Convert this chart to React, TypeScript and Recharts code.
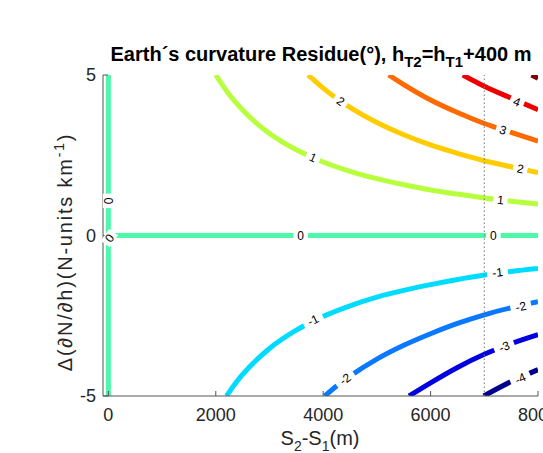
import React from "react";
import { ComposedChart, Line, XAxis, YAxis, ReferenceLine, ReferenceDot } from "recharts";

const xTicks = [0, 2000, 4000, 6000, 8000];
const yTicks = [-5, 0, 5];

// contour lines, points (x in m, y in N-units/km)
const zeroHorizontal = [{ x: 0, y: 0 }, { x: 8000, y: 0 }];
const zeroVertical = [{ x: 0, y: -5 }, { x: 0, y: 5 }];
const plusOne = [
  { x: 2000, y: 5.0 }, { x: 2250, y: 4.39 }, { x: 2500, y: 3.91 }, { x: 2750, y: 3.51 },
  { x: 3000, y: 3.18 }, { x: 3500, y: 2.67 }, { x: 4000, y: 2.29 }, { x: 4500, y: 2.0 },
  { x: 5000, y: 1.77 }, { x: 5500, y: 1.58 }, { x: 6000, y: 1.42 }, { x: 6500, y: 1.29 },
  { x: 7000, y: 1.17 }, { x: 7500, y: 1.07 }, { x: 8000, y: 0.98 },
];
const plusTwo = [
  { x: 3720, y: 5.0 }, { x: 4000, y: 4.59 }, { x: 4250, y: 4.27 }, { x: 4500, y: 3.99 },
  { x: 5000, y: 3.52 }, { x: 5500, y: 3.14 }, { x: 6000, y: 2.82 }, { x: 6500, y: 2.56 },
  { x: 7000, y: 2.33 }, { x: 7500, y: 2.14 }, { x: 8000, y: 1.96 },
];
const plusThree = [
  { x: 5220, y: 5.0 }, { x: 5500, y: 4.7 }, { x: 6000, y: 4.22 }, { x: 6500, y: 3.83 },
  { x: 7000, y: 3.49 }, { x: 7500, y: 3.21 }, { x: 8000, y: 2.94 },
];
const plusFour = [{ x: 6600, y: 5.0 }, { x: 7000, y: 4.65 }, { x: 7500, y: 4.28 }, { x: 8000, y: 3.92 }];
const plusFive = [{ x: 7880, y: 5.0 }, { x: 8000, y: 4.9 }];
const minusOne = [
  { x: 2200, y: -5.0 }, { x: 2350, y: -4.64 }, { x: 2500, y: -4.33 }, { x: 3000, y: -3.52 },
  { x: 3500, y: -2.95 }, { x: 4000, y: -2.52 }, { x: 4500, y: -2.19 }, { x: 5000, y: -1.92 },
  { x: 5500, y: -1.71 }, { x: 6000, y: -1.53 }, { x: 6500, y: -1.37 }, { x: 7000, y: -1.23 },
  { x: 7500, y: -1.12 }, { x: 8000, y: -1.03 },
];
const minusTwo = [
  { x: 4030, y: -5.0 }, { x: 4250, y: -4.69 }, { x: 4500, y: -4.38 }, { x: 5000, y: -3.85 },
  { x: 5500, y: -3.42 }, { x: 6000, y: -3.06 }, { x: 6500, y: -2.74 }, { x: 7000, y: -2.47 },
  { x: 7500, y: -2.25 }, { x: 8000, y: -2.06 },
];
const minusThree = [
  { x: 5600, y: -5.0 }, { x: 6000, y: -4.59 }, { x: 6500, y: -4.11 }, { x: 7000, y: -3.7 },
  { x: 7500, y: -3.37 }, { x: 8000, y: -3.09 },
];
const minusFour = [{ x: 6990, y: -5.0 }, { x: 7500, y: -4.55 }, { x: 8000, y: -4.18 }];

const contourLines = [
  zeroHorizontal, zeroVertical, plusOne, plusTwo, plusThree, plusFour, plusFive,
  minusOne, minusTwo, minusThree, minusFour,
];
const contourColors = [
  "#4cf9a9", "#4cf9a9", "#b7ff3c", "#ffcc00", "#ff6a00", "#ee0000", "#820000",
  "#00dcff", "#0a78ff", "#0000e0", "#00008c",
];

// inline labels on the contours
const labelText = ["0", "0", "0", "0", "1", "2", "1", "2", "3", "4", "-1", "-2", "-1", "-2", "-3", "-4"];
const labelX = [0, 20, 3580, 7170, 3810, 4325, 7300, 7670, 7350, 7610, 3810, 4405, 7245, 7680, 7370, 7670];
const labelY = [1.08, -0.08, 0, 0, 2.43, 4.19, 1.11, 2.08, 3.29, 4.17, -2.63, -4.47, -1.15, -2.21, -3.46, -4.45];
const labelAngle = [90, -55, 0, 0, 24, 35, 6, 11, 18, 22, -26, -36, -7, -12, -21, -24];

const font = "'Liberation Sans', Arial, Helvetica, sans-serif";
const axisColor = "#555";
const textColor = "#262626";

function gapLabel(text: string, angle: number) {
  return (props: any) => {
    const { cx, cy } = props;
    const w = text.length * 6.5 + 8;
    return (
      <g transform={`translate(${cx},${cy}) rotate(${angle})`}>
        <rect x={-w / 2} y={-5.5} width={w} height={11} fill="#fff" />
        <text x={0} y={0} dy="0.36em" textAnchor="middle" fontSize={12} fontFamily={font} fill="#000">
          {text}
        </text>
      </g>
    );
  };
}

const XTick = (props: any) => {
  const { x, y, payload } = props;
  return (
    <g>
      <line x1={x} x2={x} y1={y} y2={y - 5} stroke={axisColor} />
      <text x={x} y={y + 25} textAnchor="middle" fontSize={18} fontFamily={font} fill={textColor}>
        {payload.value}
      </text>
    </g>
  );
};

const YTick = (props: any) => {
  const { x, y, payload } = props;
  return (
    <g>
      <line x1={x} x2={x + 5} y1={y} y2={y} stroke={axisColor} />
      <text x={x - 7} y={y} dy="0.35em" textAnchor="end" fontSize={18} fontFamily={font} fill={textColor}>
        {payload.value}
      </text>
    </g>
  );
};

export default function App() {
  return (
    <div style={{ position: "relative", width: 535, height: 445, overflow: "hidden" }}>
      <style>{"body{margin:8px 0 0 8px;}"}</style>
      <ComposedChart width={600} height={445} margin={{ top: 67, right: 70, bottom: 27, left: 35 }}>
        <XAxis
          dataKey="x"
          type="number"
          domain={[-100, 8000]}
          ticks={xTicks}
          allowDataOverflow
          height={30}
          tickSize={0}
          tickMargin={0}
          tickLine={false}
          tick={<XTick />}
          stroke={axisColor}
        />
        <XAxis
          xAxisId="top"
          orientation="top"
          type="number"
          domain={[-100, 8000]}
          ticks={xTicks}
          mirror
          height={0}
          tick={false}
          tickSize={5}
          stroke={axisColor}
        />
        <YAxis
          type="number"
          domain={[-5, 5]}
          ticks={yTicks}
          allowDataOverflow
          width={60}
          tickSize={0}
          tickMargin={0}
          tickLine={false}
          tick={<YTick />}
          stroke={axisColor}
        />
        <YAxis
          yAxisId="right"
          orientation="right"
          type="number"
          domain={[-5, 5]}
          ticks={yTicks}
          mirror
          width={0}
          tick={false}
          tickSize={5}
          stroke={axisColor}
        />
        {contourLines.map((d, i) => (
          <Line
            key={i}
            data={d}
            dataKey="y"
            type={i < 2 ? "linear" : "monotone"}
            stroke={contourColors[i]}
            strokeWidth={5}
            dot={false}
            activeDot={false}
            isAnimationActive={false}
          />
        ))}
        <ReferenceLine x={7000} stroke="#777" strokeWidth={1} strokeDasharray="1.5 2.5" />
        {labelText.map((t, i) => (
          <ReferenceDot
            key={"l" + i}
            x={labelX[i]}
            y={labelY[i]}
            r={1}
            zIndex={2000}
            shape={gapLabel(t, labelAngle[i])}
          />
        ))}
      </ComposedChart>
      <svg width={535} height={445} style={{ position: "absolute", left: 0, top: 0, pointerEvents: "none" }}>
        <text x={313} y={53} textAnchor="middle" fontSize={20} fontWeight="bold" fontFamily={font} fill="#000">
          Earth´s curvature Residue(°), h
          <tspan dy={6} fontSize={15}>T2</tspan>
          <tspan dy={-6}>=h</tspan>
          <tspan dy={6} fontSize={15}>T1</tspan>
          <tspan dy={-6}>+400 m</tspan>
        </text>
        <text x={312} y={437} textAnchor="middle" fontSize={20} fontFamily={font} fill={textColor}>
          S<tspan dy={6} fontSize={14}>2</tspan>
          <tspan dy={-6}>-S</tspan>
          <tspan dy={6} fontSize={14}>1</tspan>
          <tspan dy={-6}>(m)</tspan>
        </text>
        <text
          x={64}
          y={244}
          transform="rotate(-90, 64, 244)"
          textAnchor="middle"
          fontSize={20}
          letterSpacing={1.8}
          fontFamily={font}
          fill={textColor}
        >
          Δ(∂N/∂h)(N-units km<tspan dy={-8} fontSize={14}>-1</tspan>
          <tspan dy={8}>)</tspan>
        </text>
      </svg>
    </div>
  );
}
